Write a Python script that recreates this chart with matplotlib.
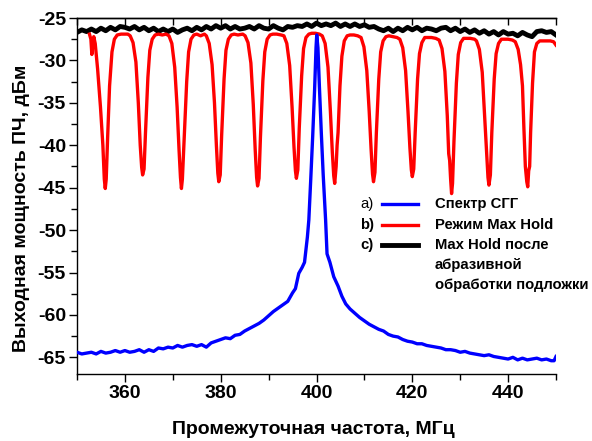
import matplotlib
matplotlib.use("Agg")
import matplotlib.pyplot as plt
from matplotlib.ticker import MultipleLocator
from matplotlib.lines import Line2D

plt.rcParams['font.family'] = ['Liberation Sans', 'DejaVu Sans']
plt.rcParams['axes.unicode_minus'] = False

# ---- data ----
blue_x = [350, 351, 352, 353, 354, 355, 356, 357, 358, 359, 360, 361, 362, 363, 364, 365, 366, 367, 368, 369,
          370, 371, 372, 373, 374, 375, 376, 377, 378, 379, 380, 381, 382, 383, 384, 385, 386, 387, 388, 389,
          390, 391, 392, 393, 394, 395, 395.6, 396.3, 397.0, 397.5, 398.1, 398.4, 398.8, 399.2, 399.6, 399.9,
          400.05, 400.3, 400.6, 401.0, 401.4, 401.9, 402.2, 402.8, 403.6, 404.5, 405.3, 406.1, 407, 408, 409,
          410, 411, 412, 413, 414, 415, 416, 417, 418, 419, 420, 421, 422, 423, 424, 425, 426, 427, 428, 429,
          430, 431, 432, 433, 434, 435, 436, 437, 438, 439, 440, 441, 442, 443, 444, 445, 446, 447, 448, 449,
          449.6, 450]
blue_y = [-64.4, -64.6, -64.5, -64.4, -64.6, -64.3, -64.5, -64.4, -64.2, -64.4, -64.2, -64.4, -64.3, -64.1, -64.4,
          -64.1, -64.3, -63.9, -64.0, -63.8, -63.9, -63.6, -63.8, -63.6, -63.5, -63.7, -63.5, -63.8, -63.3, -63.1,
          -62.9, -62.7, -62.8, -62.4, -62.3, -61.9, -61.6, -61.3, -61.0, -60.6, -60.1, -59.6, -59.2, -58.8, -58.4,
          -57.4, -56.9, -55.1, -54.4, -53.8, -50.8, -48.8, -44.0, -39.0, -33.5, -28.5,
          -27.0, -28.5, -33.0, -38.5, -43.5, -48.8, -52.8, -53.8, -55.5, -56.6, -57.8, -58.7, -59.3, -59.8, -60.3,
          -60.7, -61.1, -61.4, -61.7, -61.9, -62.3, -62.5, -62.6, -62.9, -63.1, -63.2, -63.4, -63.4, -63.6, -63.7,
          -63.8, -63.9, -64.1, -64.1, -64.2, -64.4, -64.3, -64.5, -64.6, -64.7, -64.8, -64.7, -64.9, -65.0, -65.1,
          -65.2, -65.0, -65.3, -65.1, -65.3, -65.2, -65.1, -65.3, -65.2, -65.4, -65.4, -64.9]

red_x = [352.6, 352.9, 353.1, 353.3, 353.5, 353.8, 354.3, 354.9, 355.4, 355.7, 355.9, 356.1, 356.4, 356.8, 357.3, 357.8, 358.4,
         359.2, 360.0, 360.6,
         361.1, 361.7, 362.3, 362.8, 363.2, 363.5, 363.7, 364.0, 364.3, 364.8, 365.2, 365.7, 366.3,
         367.0, 367.8, 368.6,
         369.2, 369.8, 370.4, 370.9, 371.3, 371.6, 371.8, 372.0, 372.4, 372.9, 373.3, 373.8, 374.4,
         375.0, 375.8, 376.6,
         377.0, 377.6, 378.2, 378.7, 379.1, 379.4, 379.6, 379.9, 380.2, 380.7, 381.1, 381.6, 382.2,
         382.8, 383.6, 384.6,
         385.1, 385.7, 386.3, 386.8, 387.2, 387.5, 387.7, 388.0, 388.3, 388.8, 389.2, 389.7, 390.3,
         390.9, 391.7, 392.6,
         393.2, 393.8, 394.4, 394.9, 395.3, 395.6, 395.8, 396.1, 396.4, 396.9, 397.3, 397.8, 398.4,
         399.0, 399.8, 400.6,
         401.2, 401.8, 402.4, 402.9, 403.3, 403.6, 403.8, 404.1, 404.3, 404.5, 404.9, 405.3, 405.8, 406.4,
         407.0, 407.8, 408.6,
         409.3, 409.9, 410.5, 411.0, 411.4, 411.7, 411.9, 412.2, 412.5, 413.0, 413.4, 413.9, 414.5,
         415.1, 415.9, 416.8,
         417.4, 418.0, 418.6, 419.1, 419.5, 419.8, 420.0, 420.3, 420.6, 421.1, 421.5, 422.0, 422.6,
         423.2, 424.0, 424.9,
         425.6, 426.2, 426.8, 427.3, 427.6, 427.8, 428.0, 428.2, 428.4, 428.7, 429.2, 429.6, 430.1, 430.7,
         431.3, 432.1, 433.0,
         433.4, 434.0, 434.6, 435.1, 435.5, 435.8, 436.0, 436.3, 436.6, 437.1, 437.5, 438.0, 438.6,
         439.2, 440.0, 440.9,
         441.5, 442.1, 442.6, 443.0, 443.3, 443.6, 443.9, 444.1, 444.3, 444.5, 444.7, 445.1, 445.5, 446.0, 446.6,
         447.2, 448.0, 448.8, 449.5, 450.0]
red_y = [-26.9, -27.5, -29.3, -28.0, -27.2, -28.0, -31.0, -35.5, -40.0, -44.0, -45.1, -44.0, -39.0, -33.0, -29.0, -27.5, -27.0,
         -26.9, -26.9, -26.9,
         -27.1, -27.9, -30.2, -35.0, -40.0, -42.6, -43.5, -42.8, -38.5, -32.0, -28.8, -27.5, -27.0,
         -26.9, -27.0, -26.9,
         -27.1, -28.0, -30.8, -35.5, -40.5, -43.8, -45.1, -44.0, -39.0, -32.5, -29.0, -27.5, -27.0,
         -26.9, -27.1, -26.9,
         -27.1, -28.0, -30.5, -35.0, -40.0, -43.3, -44.3, -43.5, -38.8, -32.2, -28.8, -27.5, -27.0,
         -26.9, -27.0, -26.9,
         -27.1, -27.9, -30.3, -35.2, -40.5, -43.8, -44.8, -43.9, -39.0, -32.4, -29.0, -27.5, -27.0,
         -26.9, -26.9, -27.0,
         -27.1, -28.0, -30.6, -35.5, -40.2, -43.0, -43.9, -42.9, -38.0, -31.8, -28.6, -27.3, -26.9,
         -26.8, -26.8, -26.9,
         -27.1, -28.0, -30.8, -36.0, -40.8, -43.6, -44.5, -42.5, -40.0, -38.5, -33.0, -29.5, -27.7, -27.1,
         -27.0, -27.0, -27.1,
         -27.3, -28.4, -31.2, -36.0, -40.5, -43.4, -44.3, -43.2, -38.5, -32.2, -29.0, -27.7, -27.2,
         -27.1, -27.2, -27.3,
         -27.5, -28.5, -31.2, -36.0, -40.3, -42.9, -43.7, -42.8, -38.5, -32.2, -29.2, -27.9, -27.3,
         -27.3, -27.3, -27.4,
         -27.6, -28.6, -31.3, -36.5, -41.0, -41.8, -44.0, -45.7, -44.5, -39.5, -32.7, -29.3, -27.9, -27.4,
         -27.4, -27.4, -27.5,
         -27.7, -28.7, -31.4, -36.5, -40.8, -43.8, -44.7, -43.5, -38.5, -32.2, -29.2, -28.0, -27.5,
         -27.5, -27.5, -27.6,
         -27.8, -28.7, -30.5, -33.0, -38.0, -42.5, -44.3, -44.9, -43.0, -42.5, -38.5, -32.7, -29.0, -28.0, -27.7,
         -27.7, -27.7, -27.7, -27.8, -28.2]

black_x = list(range(350, 451))
black_y = [-26.7, -26.4, -26.6, -26.3, -26.6, -26.2, -26.5, -26.1, -26.4, -26.0,
           -26.1, -26.3, -26.0, -26.4, -26.1, -26.5, -26.2, -26.6, -26.3, -26.6,
           -26.3, -26.7, -26.4, -26.2, -26.5, -26.1, -26.4, -26.0, -26.3, -25.9,
           -26.2, -25.9, -26.3, -26.0, -26.3, -26.2, -26.0, -26.3, -25.9, -26.2,
           -26.3, -25.9, -26.2, -26.4, -26.0, -26.1, -25.9, -26.0, -25.7, -26.0,
           -25.6, -25.9, -25.7, -25.9, -25.6, -26.0, -25.7, -26.0, -25.7, -26.0,
           -25.8, -26.1, -26.0, -26.3, -26.5, -26.2, -26.6, -26.2, -26.5, -26.1,
           -26.4, -26.1, -26.5, -26.2, -26.3, -26.5, -26.2, -26.1, -26.5, -26.2,
           -26.6, -26.3, -26.7, -26.4, -26.8, -26.5, -26.9, -26.6, -27.0, -26.6,
           -26.9, -26.8, -27.1, -26.7, -27.0, -27.2, -26.6, -26.5, -26.7, -26.6,
           -27.0]

legend_tags = ['a)', 'b)', 'c)']
legend_labels = ['Спектр СГГ', 'Режим Max Hold', ['Max Hold после', 'абразивной', 'обработки подложки']]
colors = ['#0000ff', '#ff0000', '#000000']

x_label = 'Промежуточная частота, МГц'
y_label = 'Выходная мощность ПЧ, дБм'

# ---- figure ----
fig = plt.figure(figsize=(5.92, 4.41), dpi=100)
ax = fig.add_axes([77/592, 1-374.3/441, 479/592, 356.3/441])

ax.plot(black_x, black_y, color=colors[2], lw=3.5, solid_joinstyle='round', zorder=2)
ax.plot(red_x, red_y, color=colors[1], lw=2.4, zorder=3)
ax.plot(blue_x, blue_y, color=colors[0], lw=2.4, zorder=4)

ax.set_xlim(350, 450)
ax.set_ylim(-67, -25)
ax.xaxis.set_major_locator(MultipleLocator(20))
ax.xaxis.set_minor_locator(MultipleLocator(10))
ax.yaxis.set_major_locator(MultipleLocator(5))
ax.yaxis.set_minor_locator(MultipleLocator(2.5))

ax.spines['right'].set_visible(False)
for s in ['left', 'bottom', 'top']:
    ax.spines[s].set_linewidth(1.0)

ax.tick_params(axis='both', which='major', direction='out', length=6, width=1.0,
               labelsize=14, pad=2)
ax.tick_params(axis='both', which='minor', direction='out', length=4, width=1.0)
ax.tick_params(axis='x', which='both', top=False, labeltop=False)
for lbl in ax.get_xticklabels() + ax.get_yticklabels():
    lbl.set_fontweight('bold')

# top ticks inward
sec = ax.secondary_xaxis('top')
sec.xaxis.set_major_locator(MultipleLocator(10))
sec.tick_params(direction='in', length=5, width=1.0, labeltop=False)
sec.spines['top'].set_linewidth(1.0)

fig.text(313.5/592, 1-430/441, x_label, ha='center', va='center', fontsize=14, fontweight='bold')
fig.text(22/592, 1-208/441, y_label, ha='center', va='center', rotation=90,
         fontsize=14, fontweight='bold')

# legend
tf = ax.transAxes
rows = [0.478, 0.420, 0.364]
weights = ['normal', 'bold', 'bold']
for i in range(3):
    ax.add_line(Line2D([0.636, 0.712], [rows[i], rows[i]], transform=tf, color=colors[i],
                       lw=2.4 if i < 2 else 3.5, clip_on=False))
    ax.text(0.620, rows[i], legend_tags[i], transform=tf, ha='right', va='center',
            fontsize=10.7, fontweight=weights[i])
    lab = legend_labels[i]
    if isinstance(lab, list):
        for j, part in enumerate(lab):
            ax.text(0.747, rows[i] - j*0.0565, part, transform=tf, ha='left', va='center',
                    fontsize=10.7, fontweight='bold', clip_on=False)
    else:
        ax.text(0.747, rows[i], lab, transform=tf, ha='left', va='center',
                fontsize=10.7, fontweight='bold')

fig.savefig('out.png', dpi=100)
